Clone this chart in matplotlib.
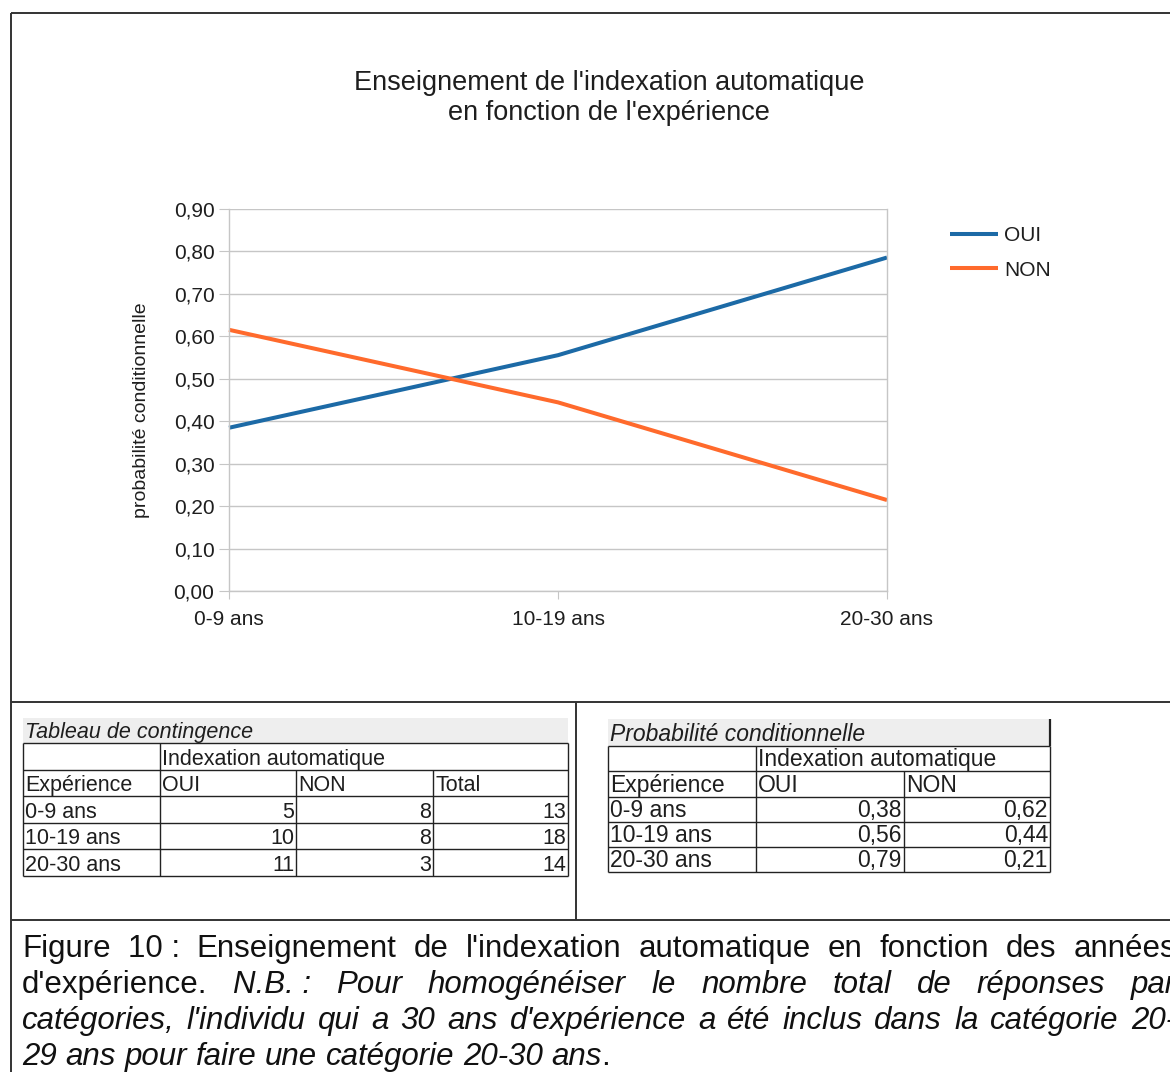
import matplotlib.pyplot as plt
from matplotlib.patches import Rectangle
from matplotlib.ticker import FuncFormatter
import numpy as np

plt.rcParams['font.family'] = ['Liberation Sans', 'DejaVu Sans']

# data
categories = ['0-9 ans', '10-19 ans', '20-30 ans']
oui_count = [5, 10, 11]
non_count = [8, 8, 3]
total_count = [13, 18, 14]
oui_prob = [0.3846, 0.5556, 0.7857]
non_prob = [0.6154, 0.4444, 0.2143]

title = "Enseignement de l'indexation automatique\nen fonction de l'expérience"
ylabel = 'probabilité conditionnelle'

caption = [
    [("Figure 10\u00a0: Enseignement de l'indexation automatique en fonction des années", 'normal')],
    [("d'expérience. ", 'normal'), ("N.B.\u00a0: Pour homogénéiser le nombre total de réponses par", 'italic')],
    [("catégories, l'individu qui a 30 ans d'expérience a été inclus dans la catégorie 20-", 'italic')],
    [("29 ans pour faire une catégorie 20-30 ans", 'italic'), (".", 'normal')],
]

BLUE = '#1c6aa6'
ORANGE = '#ff6a2c'
GRID = '#c6c6c6'
TXT = '#1e1e1e'
W, H = 1170, 1072

fig = plt.figure(figsize=(W / 100, H / 100), dpi=100)

# background axes in pixel coords (frame, tables, caption)
bg = fig.add_axes([0, 0, 1, 1])
bg.set_xlim(0, W)
bg.set_ylim(H, 0)
bg.axis('off')

def seg(x0, y0, x1, y1, c='#333333', lw=1.4):
    bg.plot([x0, x1], [y0, y1], color=c, lw=lw, solid_capstyle='butt')

seg(11, 13, 11, H)
seg(11, 13, W, 13)
seg(11, 702, W, 702)
seg(576, 702, 576, 920)
seg(11, 920, W, 920)

# chart
ax = fig.add_axes([229 / W, 1 - 591 / H, 658 / W, 382 / H])
ax.set_facecolor('none')
x = np.arange(len(categories))
ax.plot(x, oui_prob, color=BLUE, lw=2.9, label='OUI', clip_on=False, solid_capstyle='butt')
ax.plot(x, non_prob, color=ORANGE, lw=2.9, label='NON', clip_on=False, solid_capstyle='butt')
ax.set_xlim(0, 2)
ax.set_ylim(0, 0.9)
ax.set_xticks(x)
ax.set_xticklabels(categories)
ax.set_yticks(np.round(np.arange(0, 0.91, 0.1), 2))
ax.yaxis.set_major_formatter(FuncFormatter(lambda v, p: f'{v:.2f}'.replace('.', ',')))
ax.grid(axis='y', color=GRID, lw=1)
ax.set_axisbelow(True)
ax.spines['top'].set_visible(False)
for s in ['left', 'right', 'bottom']:
    ax.spines[s].set_color(GRID)
    ax.spines[s].set_linewidth(1)
ax.tick_params(axis='y', length=7.5, color=GRID, pad=3, labelsize=15, labelcolor=TXT)
ax.tick_params(axis='x', length=6, color=GRID, pad=8, labelsize=15, labelcolor=TXT)
ax.set_ylabel(ylabel, fontsize=14, color=TXT)
ax.yaxis.set_label_coords(-0.12, 0.474)
ax.legend(loc='upper left', bbox_to_anchor=(950 / W, 1 - 226 / H), bbox_transform=fig.transFigure,
          frameon=False, fontsize=15, handlelength=2.3, handletextpad=0.3,
          labelspacing=0.75, borderpad=0, borderaxespad=0, labelcolor=TXT)

fig.text(609 / W, 1 - 98 / H, title, ha='center', va='center', fontsize=19.5,
         linespacing=1.2, color=TXT)

# tables
def draw_table(xs, ys, title_top, ttl, header, body, fs):
    bg.add_patch(Rectangle((xs[0], title_top), xs[-1] - xs[0], ys[0] - title_top,
                           facecolor='#eeeeee', edgecolor='none'))
    bg.text(xs[0] + 2, ys[0] - 5, ttl, style='italic', fontsize=fs, color=TXT, va='baseline')
    for y in ys:
        seg(xs[0], y, xs[-1], y, c='#222222', lw=1)
    seg(xs[0], ys[0], xs[0], ys[-1], c='#222222', lw=1)
    seg(xs[1], ys[0], xs[1], ys[-1], c='#222222', lw=1)
    seg(xs[-1], ys[0], xs[-1], ys[-1], c='#222222', lw=1)
    for xc in xs[2:-1]:
        seg(xc, ys[1], xc, ys[-1], c='#222222', lw=1)
    bg.text(xs[1] + 2, ys[1] - 5, 'Indexation automatique', fontsize=fs, color=TXT, va='baseline')
    for j, h in enumerate(header):
        bg.text(xs[j] + 2, ys[2] - 5, h, fontsize=fs, color=TXT, va='baseline')
    for i, row in enumerate(body):
        yb = ys[3 + i] - 5
        bg.text(xs[0] + 2, yb, row[0], fontsize=fs, color=TXT, va='baseline')
        for j, v in enumerate(row[1:]):
            bg.text(xs[j + 2] - 2, yb, v, fontsize=fs, color=TXT, va='baseline', ha='right')

cont_rows = [[c, str(a), str(b), str(t)] for c, a, b, t in zip(categories, oui_count, non_count, total_count)]
draw_table([23, 160, 296, 433, 568], [743, 770, 796, 823, 849, 876], 718,
           'Tableau de contingence', ['Expérience', 'OUI', 'NON', 'Total'], cont_rows, 15.5)

prob_rows = [[c, f'{a:.2f}'.replace('.', ','), f'{b:.2f}'.replace('.', ',')]
             for c, a, b in zip(categories, oui_prob, non_prob)]
draw_table([608, 756, 904, 1050], [746, 771, 797, 822, 847, 872], 719,
           'Probabilité conditionnelle', ['Expérience', 'OUI', 'NON'], prob_rows, 16.5)
seg(1050, 719, 1050, 746, c='#222222', lw=1.6)

# caption, justified
CAP_FS = 22.5
renderer = fig.canvas.get_renderer()

def width_of(s, style):
    t = bg.text(0, 0, s, fontsize=CAP_FS, style=style)
    w = t.get_window_extent(renderer=renderer).width
    t.remove()
    return w

space_w = width_of('a a', 'normal') - width_of('aa', 'normal')
left, right = 22, 1176
baselines = [957, 993, 1029, 1065]
for li, line in enumerate(caption):
    toks = []
    prev_space = True
    for text, style in line:
        parts = text.split(' ')
        for k, p in enumerate(parts):
            if p == '':
                continue
            glue = (k == 0 and not prev_space and not text.startswith(' '))
            toks.append((p, style, glue, width_of(p, style)))
        prev_space = text.endswith(' ')
    total = sum(t[3] for t in toks)
    ngaps = sum(1 for t in toks[1:] if not t[2])
    if li < len(caption) - 1:
        gap = (right - left - total) / ngaps
    else:
        gap = space_w
    xpos = left
    for i, (p, style, glue, w) in enumerate(toks):
        if i > 0 and not glue:
            xpos += gap
        bg.text(xpos, baselines[li], p, fontsize=CAP_FS, style=style, color='#111111',
                va='baseline', clip_on=False)
        xpos += w

fig.savefig('out.png', dpi=100)
